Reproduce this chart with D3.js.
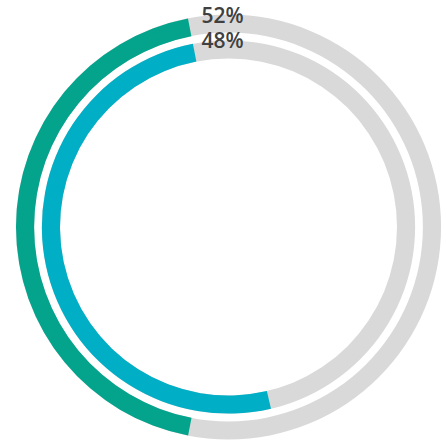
<!DOCTYPE html>
<html>
<head>
<meta charset="utf-8">
<script src="https://cdn.jsdelivr.net/npm/d3@7"></script>
<style>
  html, body { margin: 0; padding: 0; background: #fff; }
  svg { display: block; }
</style>
</head>
<body>
<svg id="chart" width="447" height="446"></svg>
<script>
// Two concentric progress rings, outer first
const rings = ["outer", "inner"];
const shares = [43.9, 50.6];          // filled share of each ring, %
const labels = ["52%", "48%"];        // captions shown at the top
const colors = ["#03A38C", "#00AEC5"];
const trackColor = "#D9D9D9";

const width = 447, height = 446;
const cx = 228.5, cy = 227;
const anchorDeg = -11;                // filled arcs end here and run counter-clockwise

const svg = d3.select("#chart");
const g = svg.append("g").attr("transform", `translate(${cx},${cy})`);

// Radial bands: outer ring gets the larger radii
const radius = d3.scaleBand()
  .domain(rings)
  .range([212.5, 168.5])
  .paddingInner(0.3);

const angle = d3.scaleLinear()
  .domain([0, 100])
  .range([0, 2 * Math.PI]);

const anchor = anchorDeg * Math.PI / 180;

const inner = ring => radius(ring);
const outer = ring => radius(ring) + radius.bandwidth();

const arc = d3.arc()
  .innerRadius(d => inner(d.ring))
  .outerRadius(d => outer(d.ring));

const data = rings.map((ring, i) => ({ ring, share: shares[i], color: colors[i] }));

// Grey track for the whole circle
g.selectAll("path.track")
  .data(data)
  .join("path")
  .attr("class", "track")
  .attr("fill", trackColor)
  .attr("d", d => arc({ ...d, startAngle: 0, endAngle: 2 * Math.PI }));

// Coloured portion
g.selectAll("path.fill")
  .data(data)
  .join("path")
  .attr("class", "fill")
  .attr("fill", d => d.color)
  .attr("d", d => arc({ ...d, startAngle: anchor - angle(d.share), endAngle: anchor }));

// Captions at the top of each ring
g.selectAll("text.caption")
  .data(data)
  .join("text")
  .attr("class", "caption")
  .attr("x", -6)
  .attr("y", d => -outer(d.ring) + 8)
  .attr("text-anchor", "middle")
  .attr("font-family", "'Open Sans', sans-serif")
  .attr("font-weight", 600)
  .attr("font-size", 21)
  .attr("fill", "#404040")
  .text((d, i) => labels[i]);
</script>
</body>
</html>
